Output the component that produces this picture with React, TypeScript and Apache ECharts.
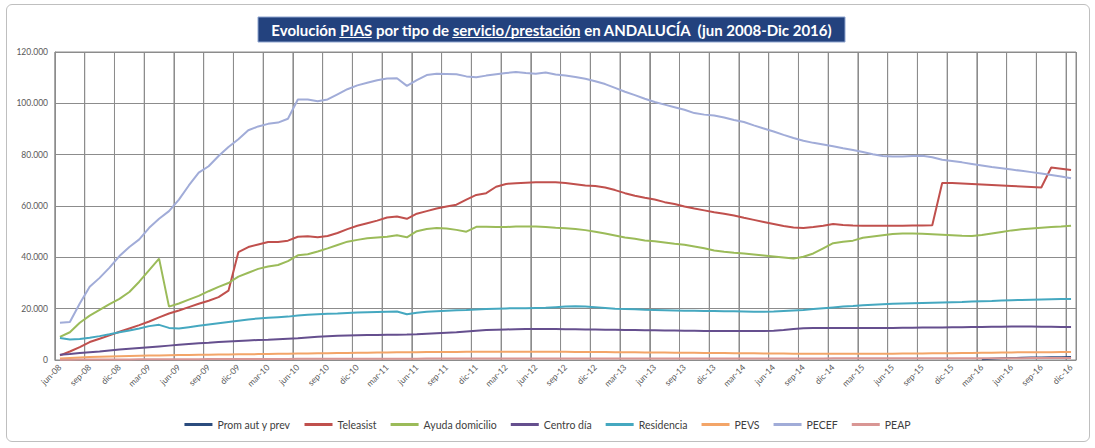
import React, { useEffect, useRef } from "react";
import * as echarts from "echarts";

const MONTH_NAMES = ["ene", "feb", "mar", "abr", "may", "jun", "jul", "ago", "sep", "oct", "nov", "dic"];
const CATEGORIES: string[] = [];
for (let y = 2008; y <= 2016; y++) {
  for (let m = 0; m < 12; m++) {
    if (y === 2008 && m < 5) continue;
    CATEGORIES.push(MONTH_NAMES[m] + "-" + String(y).slice(2));
  }
}

const Y_TICKS = ["0", "20.000", "40.000", "60.000", "80.000", "100.000", "120.000"];

const TITLE_PARTS = ["Evolución ", "PIAS", " por tipo de ", "servicio/prestación", " en ANDALUCÍA  (jun 2008-Dic 2016)"];

const SERIES_NAMES = ["Prom aut y prev", "Teleasist", "Ayuda domicilio", "Centro día", "Residencia", "PEVS", "PECEF", "PEAP"];

const PROM_AUT: (number | null)[] = [
  ...Array(93).fill(null),
  300, 500, 650, 750, 850, 950, 1000, 1050, 1100, 1200,
];

const TELEASIST = [
  1800, 3300, 5000, 7000, 8300, 9600, 11000, 12300, 13600, 15000,
  16600, 18100, 19300, 20600, 21900, 23100, 24500, 27000, 42000, 44000,
  45000, 46000, 46000, 46500, 48000, 48200, 47800, 48300, 49500, 51000,
  52300, 53300, 54300, 55500, 55900, 55000, 57000, 58000, 59000, 59800,
  60500, 62500, 64300, 65000, 67500, 68600, 68900, 69100, 69300, 69300,
  69300, 69000, 68500, 68000, 67800, 67200, 66200, 65000, 64000, 63200,
  62500, 61500, 60800, 59800, 59000, 58300, 57600, 57000, 56300, 55400,
  54600, 53800, 53000, 52200, 51600, 51400, 51800, 52300, 53000, 52600,
  52400, 52300, 52300, 52300, 52300, 52300, 52400, 52400, 52500, 69000,
  69000, 68800, 68600, 68400, 68200, 68000, 67800, 67600, 67400, 67200,
  75000, 74500, 74000,
];

const AYUDA_DOMICILIO = [
  9000, 10800, 14500, 17300, 19500, 21800, 23800, 26500, 30500, 35000,
  39500, 20800, 22000, 23500, 25000, 26800, 28500, 30000, 32500, 34000,
  35500, 36400, 37000, 38500, 40800, 41200, 42300, 43500, 44800, 46100,
  46800, 47400, 47700, 48000, 48600, 47800, 50200, 51000, 51400, 51200,
  50700, 50000, 51900, 51900, 51800, 51800, 52000, 52000, 52000, 51800,
  51500, 51300, 51000, 50600, 50000, 49300, 48500, 47700, 47200, 46600,
  46300, 45800, 45300, 44900, 44200, 43500, 42700, 42200, 41800, 41500,
  41100, 40700, 40300, 39900, 39500, 40200, 41500, 43500, 45500, 46100,
  46500, 47600, 48100, 48600, 49100, 49300, 49300, 49200, 49000, 48800,
  48600, 48400, 48300, 48700, 49300, 49900, 50500, 50900, 51200, 51500,
  51800, 52000, 52300,
];

const CENTRO_DIA = [
  2000, 2300, 2700, 3000, 3300, 3700, 4100, 4400, 4700, 5000,
  5300, 5600, 5900, 6200, 6500, 6700, 7000, 7200, 7400, 7600,
  7800, 7900, 8100, 8300, 8500, 8800, 9100, 9300, 9400, 9500,
  9600, 9700, 9750, 9800, 9850, 9900, 10000, 10200, 10400, 10600,
  10800, 11100, 11400, 11700, 11800, 11900, 12000, 12100, 12100, 12100,
  12100, 12000, 12000, 11900, 11900, 11800, 11800, 11700, 11700, 11600,
  11600, 11500, 11500, 11400, 11400, 11300, 11300, 11300, 11300, 11300,
  11300, 11300, 11400, 11700, 12100, 12400, 12500, 12500, 12500, 12500,
  12500, 12500, 12500, 12500, 12500, 12600, 12600, 12700, 12700, 12700,
  12800, 12800, 12900, 12900, 13000, 13000, 13100, 13100, 13100, 13000,
  13000, 12900, 12900,
];

const RESIDENCIA = [
  8600, 8000, 8200, 8700, 9300, 10000, 10800, 11500, 12300, 13200,
  13700, 12500, 12300, 12800, 13300, 13800, 14300, 14800, 15300, 15800,
  16200, 16500, 16700, 16900, 17300, 17600, 17800, 18000, 18100, 18300,
  18500, 18600, 18700, 18800, 18900, 17800, 18400, 18800, 19000, 19200,
  19400, 19500, 19700, 19900, 20000, 20100, 20200, 20200, 20300, 20400,
  20600, 20800, 20900, 20800, 20600, 20300, 20000, 19900, 19800, 19600,
  19500, 19400, 19300, 19200, 19200, 19100, 19100, 19000, 19000, 18900,
  18800, 18800, 18900, 19100, 19300, 19500, 19900, 20200, 20500, 20800,
  21000, 21300, 21500, 21700, 21900, 22000, 22100, 22200, 22300, 22400,
  22500, 22600, 22800, 22900, 23000, 23200, 23300, 23400, 23500, 23600,
  23700, 23800, 23800,
];

const PEVS = [
  600, 800, 1000, 1150, 1300, 1400, 1500, 1600, 1700, 1750,
  1800, 1850, 1900, 1950, 2000, 2050, 2100, 2150, 2200, 2250,
  2300, 2350, 2400, 2450, 2500, 2550, 2600, 2650, 2700, 2750,
  2800, 2850, 2900, 2950, 3000, 3000, 3050, 3100, 3100, 3150,
  3150, 3200, 3200, 3200, 3250, 3250, 3250, 3250, 3250, 3200,
  3200, 3200, 3150, 3150, 3100, 3100, 3050, 3000, 3000, 2950,
  2900, 2900, 2850, 2800, 2800, 2750, 2700, 2700, 2650, 2600,
  2600, 2550, 2500, 2500, 2450, 2450, 2400, 2400, 2400, 2400,
  2400, 2400, 2400, 2450, 2450, 2500, 2500, 2550, 2600, 2600,
  2650, 2700, 2750, 2800, 2850, 2900, 2950, 3000, 3000, 3050,
  3050, 3100, 3100,
];

const PECEF = [
  14500, 14800, 22000, 28500, 32000, 36000, 40500, 44000, 47000, 51500,
  55000, 58000, 62500, 68000, 73000, 75500, 79500, 83000, 86000, 89500,
  91000, 92000, 92500, 94000, 101500, 101500, 100800, 101500, 103500, 105500,
  107000, 108000, 109000, 109700, 109800, 106800, 109000, 111000, 111500, 111400,
  111300, 110500, 110200, 110800, 111300, 111800, 112200, 111800, 111500, 112000,
  111200, 110800, 110300, 109600, 108600, 107500, 106000, 104500, 103200, 101800,
  100500, 99500, 98500, 97500, 96200, 95600, 95300, 94500, 93500, 92700,
  91400, 90200, 89000, 87700, 86500, 85400, 84600, 84000, 83300, 82500,
  81800, 81000, 80200, 79500, 79300, 79300, 79500, 79600, 79000, 78000,
  77500, 77000, 76400, 75800, 75200, 74700, 74200, 73700, 73200, 72700,
  72100, 71500, 70800,
];

const PEAP = [
  100, 120, 150, 170, 190, 210, 230, 240, 260, 280,
  300, 310, 320, 330, 340, 350, 360, 370, 380, 390,
  400, 410, 420, 430, 440, 450, 460, 470, 480, 490,
  500, 500, 510, 520, 520, 530, 530, 540, 540, 550,
  550, 560, 560, 570, 570, 580, 580, 580, 590, 590,
  590, 590, 600, 600, 600, 600, 600, 600, 600, 600,
  600, 600, 600, 600, 600, 600, 600, 600, 600, 600,
  600, 600, 610, 610, 620, 620, 630, 630, 640, 640,
  650, 650, 660, 660, 670, 670, 680, 680, 690, 690,
  700, 700, 710, 710, 720, 720, 730, 730, 740, 740,
  750, 750, 760,
];

const SERIES_DATA = [PROM_AUT, TELEASIST, AYUDA_DOMICILIO, CENTRO_DIA, RESIDENCIA, PEVS, PECEF, PEAP];
const COLORS = ["#2b4c7e", "#c0504d", "#9bbb59", "#654f8e", "#45a8c0", "#f3a568", "#a1acd8", "#d99694"];

// first category of each quarter: vertical gridlines sit on its left boundary
const QUARTER_STARTS = CATEGORIES.map((_, i) => i).filter((i) => i % 3 === 0);

const FONT = "Lato, 'Open Sans', sans-serif";
const TITLE_FONT = "bold 15px Lato, 'Open Sans', sans-serif";
const GRID_COLOR = "#8c8c8c";

function measure(text: string, font: string): number {
  const c = document.createElement("canvas").getContext("2d");
  if (!c) return text.length * 7;
  c.font = font;
  return c.measureText(text).width;
}

export default function App() {
  const ref = useRef<HTMLDivElement>(null);
  useEffect(() => {
    if (!ref.current) return;
    const chart = echarts.init(ref.current, null, { renderer: "svg" });

    chart.setOption({
      animation: false,
      backgroundColor: "#ffffff",
      grid: {
        left: 55,
        right: 19,
        top: 52,
        bottom: 88,
        show: true,
        borderColor: GRID_COLOR,
        borderWidth: 1,
      },
      legend: {
        bottom: 13,
        left: "center",
        itemWidth: 28,
        itemHeight: 3,
        itemGap: 14,
        icon: "rect",
        textStyle: { fontSize: 10.5, color: "#404040", fontFamily: FONT },
        data: SERIES_NAMES,
      },
      xAxis: {
        type: "category",
        data: CATEGORIES,
        axisLine: { lineStyle: { color: GRID_COLOR } },
        axisTick: { show: false },
        axisLabel: { interval: 2, rotate: 45, fontSize: 8.5, color: "#595959", margin: 6, fontFamily: FONT },
        splitLine: { show: true, interval: 2, lineStyle: { color: GRID_COLOR, width: 1 } },
      },
      yAxis: {
        type: "value",
        min: 0,
        max: 120000,
        interval: 20000,
        axisLine: { show: true, lineStyle: { color: GRID_COLOR } },
        axisTick: { show: false },
        axisLabel: {
          fontSize: 8.5,
          color: "#595959",
          margin: 7,
          fontFamily: FONT,
          formatter: (v: number) => Y_TICKS[Math.round(v / 20000)] ?? String(v),
        },
        splitLine: { show: true, lineStyle: { color: GRID_COLOR, width: 1 } },
      },
      series: SERIES_NAMES.map((name, i) => ({
        name,
        type: "line",
        data: SERIES_DATA[i],
        symbol: "none",
        showSymbol: false,
        connectNulls: false,
        lineStyle: { color: COLORS[i], width: 2 },
        itemStyle: { color: COLORS[i] },
      })),
    });

    // vertical quarter gridlines, positioned through the category axis scale
    const c0 = chart.convertToPixel({ xAxisIndex: 0 }, 0) as any as number;
    const c1 = chart.convertToPixel({ xAxisIndex: 0 }, 1) as any as number;
    const band = c1 - c0;
    const vLines: any[] = QUARTER_STARTS.map((i) => {
      const cx = chart.convertToPixel({ xAxisIndex: 0 }, i) as any as number;
      return {
        type: "rect",
        shape: { x: cx - band / 2 - 0.5, y: 52, width: 1, height: 308 },
        style: { fill: GRID_COLOR },
        silent: true,
        z: -1,
      };
    });

    const titleText = TITLE_PARTS.join("");
    const titleCx = 551.5;
    const titleW = measure(titleText, TITLE_FONT);
    const titleX0 = titleCx - titleW / 2;
    const underlines: any[] = [1, 3].map((k) => {
      const start = titleX0 + measure(TITLE_PARTS.slice(0, k).join(""), TITLE_FONT);
      const w = measure(TITLE_PARTS[k], TITLE_FONT);
      return {
        type: "rect",
        shape: { x: start, y: 37, width: w, height: 1 },
        style: { fill: "#ffffff" },
        silent: true,
      };
    });

    chart.setOption({
      graphic: [
        ...vLines,
        {
          type: "rect",
          shape: { x: 258, y: 17, width: 587, height: 25 },
          style: { fill: "#23427e", stroke: "#8ea4cf", lineWidth: 1 },
          silent: true,
        },
        {
          type: "text",
          x: titleCx,
          y: 29.5,
          style: {
            text: titleText,
            fill: "#ffffff",
            font: TITLE_FONT,
            textAlign: "center",
            textVerticalAlign: "middle",
          },
          silent: true,
        },
        ...underlines,
      ],
    });
    return () => chart.dispose();
  }, []);
  return (
    <>
      <div
        ref={ref}
        style={{ position: "absolute", left: 0, top: 0, width: 1095, height: 448 }}
      />
      <div
        style={{
          position: "absolute",
          left: 6,
          top: 4,
          width: 1082,
          height: 436,
          border: "1px solid #bfbfbf",
          borderRadius: 6,
          pointerEvents: "none",
        }}
      />
    </>
  );
}
